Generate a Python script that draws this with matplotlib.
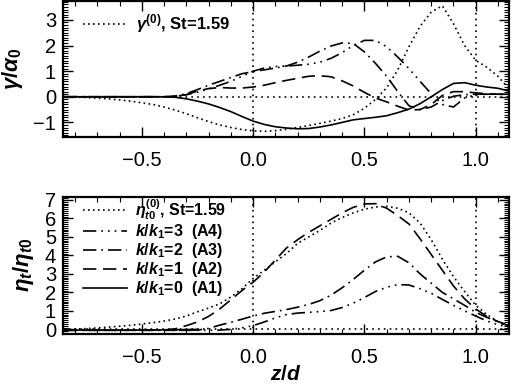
import numpy as np
import matplotlib
matplotlib.use("Agg")
import matplotlib.pyplot as plt
from matplotlib.ticker import MultipleLocator

plt.rcParams['font.family'] = ['Liberation Sans', 'DejaVu Sans']
plt.rcParams['mathtext.fontset'] = 'custom'
plt.rcParams['mathtext.rm'] = 'Liberation Sans:bold'
plt.rcParams['mathtext.it'] = 'Liberation Sans:italic:bold'
plt.rcParams['mathtext.bf'] = 'Liberation Sans:bold'

# z/d grid shared by all curves
z = [-0.85, -0.75, -0.65, -0.55, -0.45, -0.4, -0.35, -0.3, -0.25, -0.2, -0.15,
     -0.1, -0.05, 0.0, 0.05, 0.1, 0.15, 0.2, 0.25, 0.3, 0.35, 0.4, 0.45, 0.5,
     0.55, 0.6, 0.65, 0.7, 0.75, 0.8, 0.85, 0.9, 0.95, 1.0, 1.05, 1.1, 1.15]

# top panel: gamma / alpha_0
gamma0 = [0.0, -0.03, -0.08, -0.17, -0.3, -0.4, -0.52, -0.66, -0.82, -0.97, -1.1,
          -1.2, -1.28, -1.33, -1.35, -1.32, -1.27, -1.2, -1.12, -1.04, -0.95, -0.85,
          -0.7, -0.45, -0.1, 0.35, 1.05, 1.95, 2.75, 3.3, 3.55, 2.85, 2.0, 1.42, 1.15,
          0.8, 0.3]
gamma_A1 = [0, 0, 0, 0, 0, 0, -0.02, -0.08, -0.17, -0.28, -0.42, -0.58, -0.77, -0.95,
            -1.08, -1.17, -1.22, -1.25, -1.24, -1.18, -1.1, -1.0, -0.9, -0.85, -0.8,
            -0.74, -0.62, -0.48, -0.27, 0.0, 0.28, 0.52, 0.55, 0.45, 0.38, 0.33, 0.22]
gamma_A2 = [0, 0, 0, 0, 0, 0, 0.0, 0.08, 0.22, 0.32, 0.36, 0.34, 0.34, 0.38, 0.45,
            0.55, 0.64, 0.72, 0.8, 0.82, 0.78, 0.62, 0.42, 0.17, -0.05, -0.2, -0.37,
            -0.52, -0.5, -0.3, 0.05, 0.2, 0.2, 0.15, 0.12, 0.1, 0.08]
gamma_A3 = [0, 0, 0, 0, 0, 0, 0.03, 0.12, 0.28, 0.45, 0.6, 0.75, 0.9, 0.98, 1.05,
            1.12, 1.2, 1.35, 1.55, 1.78, 1.98, 2.1, 2.08, 1.75, 1.3, 0.8, 0.2, -0.35,
            -0.5, -0.4, -0.15, 0.02, 0.08, 0.1, 0.1, 0.1, 0.1]
gamma_A4 = [0, 0, 0, 0, 0, 0, 0.02, 0.08, 0.18, 0.3, 0.45, 0.6, 0.8, 1.0, 1.12,
            1.18, 1.2, 1.23, 1.27, 1.35, 1.5, 1.72, 2.0, 2.2, 2.2, 1.95, 1.55, 1.1,
            0.6, 0.12, -0.3, -0.4, -0.05, 0.08, 0.1, 0.1, 0.1]

# bottom panel: eta_t / eta_t0
eta0 = [0.0, 0.04, 0.12, 0.22, 0.36, 0.45, 0.56, 0.72, 0.95, 1.15, 1.38, 1.75, 2.2,
        2.75, 3.2, 3.65, 4.1, 4.65, 5.0, 5.35, 5.75, 6.05, 6.3, 6.5, 6.62, 6.65, 6.55,
        6.3, 5.75, 4.85, 3.8, 2.85, 2.05, 1.3, 0.8, 0.42, 0.12]
eta_A1 = [-0.04, -0.04, -0.04, -0.04, -0.03, -0.03, -0.02, -0.01, 0.0] + [np.nan] * 28
eta_A2 = [-0.05, -0.05, -0.05, -0.05, -0.04, -0.03, 0.03, 0.2, 0.4, 0.7, 1.1, 1.6,
          2.1, 2.55, 3.1, 3.75, 4.4, 4.85, 5.25, 5.6, 5.95, 6.3, 6.6, 6.78, 6.8, 6.55,
          6.15, 5.7, 4.9, 4.05, 3.2, 2.35, 1.65, 1.1, 0.7, 0.42, 0.22]
eta_A3 = [-0.05, -0.05, -0.05, -0.05, -0.05, -0.05, -0.05, -0.05, -0.04, 0.05, 0.23,
          0.38, 0.55, 0.72, 0.87, 0.97, 1.07, 1.2, 1.35, 1.55, 1.85, 2.25, 2.7, 3.2,
          3.65, 3.92, 3.95, 3.6, 3.0, 2.5, 2.0, 1.65, 1.3, 0.92, 0.65, 0.4, 0.18]
eta_A4 = [-0.05, -0.05, -0.05, -0.05, -0.05, -0.05, -0.05, -0.05, -0.05, -0.05, -0.04,
          0.0, 0.08, 0.2, 0.4, 0.62, 0.8, 0.88, 0.92, 0.96, 1.02, 1.18, 1.42, 1.72,
          2.05, 2.28, 2.42, 2.4, 2.2, 1.95, 1.62, 1.3, 1.0, 0.72, 0.45, 0.25, 0.12]

lw = 1.2
dot = (0, (1, 2))
dash = (0, (8, 4))
dashdot = (0, (8, 3, 1, 3))
dash3dot = (0, (8, 3, 1, 3, 1, 3, 1, 3))
refdot = (0, (1, 2.5))

fig = plt.figure(figsize=(5.11, 3.87), dpi=100)
ax1 = fig.add_axes([0.1233, 0.646, 0.873, 0.351])
ax2 = fig.add_axes([0.1233, 0.137, 0.873, 0.355])

# top panel
ax1.plot(z, gamma0, color='k', lw=lw, ls=dot, label=r'$\gamma^{(0)}$, St=1.59')
ax1.plot(z, gamma_A1, color='k', lw=lw, ls='-')
ax1.plot(z, gamma_A2, color='k', lw=lw, ls=dash)
ax1.plot(z, gamma_A3, color='k', lw=lw, ls=dashdot)
ax1.plot(z, gamma_A4, color='k', lw=lw, ls=dash3dot)
ax1.axhline(0, color='k', lw=lw, ls=refdot)
ax1.set_ylim(-1.57, 3.73)
ax1.set_ylabel(r'$\gamma/\alpha_0$', fontsize=16, labelpad=6)
ax1.legend(loc='upper left', bbox_to_anchor=(0.012, 1.03), frameon=False,
           handlelength=2.7, handletextpad=0.45,
           prop={'weight': 'bold', 'size': 12})

# bottom panel
ax2.plot(z, eta0, color='k', lw=lw, ls=dot, label=r'$\eta_{t0}^{(0)}$, St=1.59')
ax2.plot(z, eta_A4, color='k', lw=lw, ls=dash3dot, label=r'$k/k_1$=3  (A4)')
ax2.plot(z, eta_A3, color='k', lw=lw, ls=dashdot, label=r'$k/k_1$=2  (A3)')
ax2.plot(z, eta_A2, color='k', lw=lw, ls=dash, label=r'$k/k_1$=1  (A2)')
ax2.plot(z, eta_A1, color='k', lw=lw, ls='-', label=r'$k/k_1$=0  (A1)')
ax2.axhline(0, color='k', lw=lw, ls=refdot)
ax2.set_ylim(-0.25, 7.18)
ax2.set_ylabel(r'$\eta_t/\eta_{t0}$', fontsize=16, labelpad=6)
ax2.set_xlabel(r'$z/d$', fontsize=15, labelpad=-1)
ax2.legend(loc='upper left', bbox_to_anchor=(0.012, 1.10), frameon=False,
           handlelength=2.8, handletextpad=0.45, labelspacing=0.0,
           prop={'weight': 'bold', 'size': 11.5})

for ax in (ax1, ax2):
    ax.axvline(0, color='k', lw=lw, ls=refdot)
    ax.axvline(1, color='k', lw=lw, ls=refdot)
    ax.set_xlim(-0.854, 1.15)
    ax.xaxis.set_minor_locator(MultipleLocator(0.1))
    ax.yaxis.set_major_locator(MultipleLocator(1))
    ax.yaxis.set_minor_locator(MultipleLocator(0.1))
    ax.set_xticks([-0.5, 0.0, 0.5, 1.0])
    ax.xaxis.set_major_formatter(plt.FuncFormatter(lambda v, p: f'{v:.1f}'.replace('-', '\u2212')))
    ax.tick_params(which='both', direction='in', top=True, right=True, labelsize=14.5)
    ax.tick_params(which='major', length=7, width=1)
    ax.tick_params(which='minor', length=3.5, width=0.8)
    ax.tick_params(axis='x', pad=10)
    ax.tick_params(axis='y', pad=5)
    for s in ax.spines.values():
        s.set_linewidth(1.6)

fig.savefig('out.png', dpi=100)
